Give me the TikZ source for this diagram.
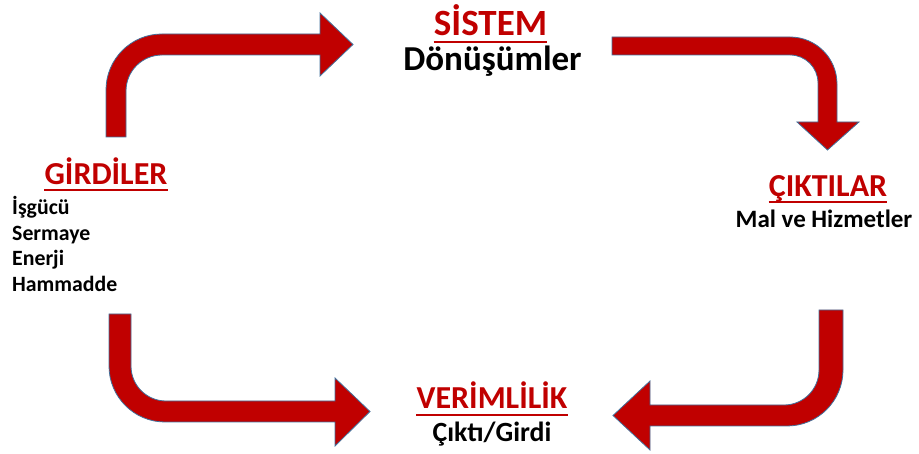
\documentclass[tikz,border=0pt]{standalone}
\usepackage{fontspec}
\setmainfont{Carlito}
\definecolor{arrred}{HTML}{C00000}
\definecolor{arredge}{HTML}{41719C}
\begin{document}
\begin{tikzpicture}[x=1pt,y=1pt,
  bigarrow/.style={fill=arrred,draw=arredge,line width=0.8pt,line join=miter},
  head/.style={inner sep=0pt,anchor=base,text=arrred,font=\bfseries\fontsize{#1}{#1}\selectfont},
  sub/.style={inner sep=0pt,anchor=base,text=black,font=\bfseries\fontsize{#1}{#1}\selectfont},
  uline/.style={draw=arrred,line width=1.8pt}]
\useasboundingbox (0,0) rectangle (919,-454);
% arrow 1: up then right
\path[bigarrow] (106,-137) -- (106,-90) arc[start angle=180,end angle=90,radius=56pt]
  -- (320,-34) -- (320,-13) -- (353,-44.5) -- (320,-76) -- (320,-55) -- (162,-55)
  arc[start angle=90,end angle=180,radius=36pt] -- (126,-137) -- cycle;
% arrow 2: right then down
\path[bigarrow] (612,-37) -- (790,-37) arc[start angle=90,end angle=0,radius=47pt]
  -- (837,-122) -- (859,-122) -- (827.5,-150) -- (797,-122) -- (818,-122) -- (818,-83)
  arc[start angle=0,end angle=90,radius=28pt] -- (612,-55) -- cycle;
% arrow 3: down then left
\path[bigarrow] (819,-310) -- (843,-310) -- (843,-370) arc[start angle=0,end angle=-90,radius=56pt]
  -- (650,-426) -- (650,-450) -- (613,-415.5) -- (650,-381) -- (650,-405) -- (784,-405)
  arc[start angle=-90,end angle=0,radius=35pt] -- cycle;
% arrow 4: down then right
\path[bigarrow] (109,-314) -- (109,-366) arc[start angle=180,end angle=270,radius=56pt]
  -- (335,-422) -- (335,-446) -- (370,-411.5) -- (335,-378) -- (335,-401) -- (166,-401)
  arc[start angle=270,end angle=180,radius=35pt] -- (131,-314) -- cycle;
% texts
\node[head=37] (sis) at (490.5,-36) {SİSTEM};
\draw[uline] ([yshift=-6pt]sis.base west) -- ([yshift=-6pt]sis.base east);
\node[sub=35] (don) at (492.5,-71) {Dönüşümler};
\node[head=32] (gir) at (106,-185) {GİRDİLER};
\draw[uline] ([yshift=-5pt]gir.base west) -- ([yshift=-5pt]gir.base east);
\node[sub=21.8,anchor=base west] (l1) at (12,-215) {İşgücü};
\node[sub=21.8,anchor=base west] (l2) at (12,-240.5) {Sermaye};
\node[sub=21.8,anchor=base west] (l3) at (12,-266) {Enerji};
\node[sub=21.8,anchor=base west] (l4) at (12,-291.5) {Hammadde};
\node[head=32] (cik) at (828,-197) {ÇIKTILAR};
\draw[uline] ([yshift=-5pt]cik.base west) -- ([yshift=-5pt]cik.base east);
\node[sub=25] (mal) at (824,-228) {Mal ve Hizmetler};
\node[head=32] (ver) at (492,-409) {VERİMLİLİK};
\draw[uline] ([yshift=-6pt]ver.base west) -- ([yshift=-6pt]ver.base east);
\node[sub=27.8] (cg) at (492,-442) {Çıktı/Girdi};
\end{tikzpicture}
\end{document}
